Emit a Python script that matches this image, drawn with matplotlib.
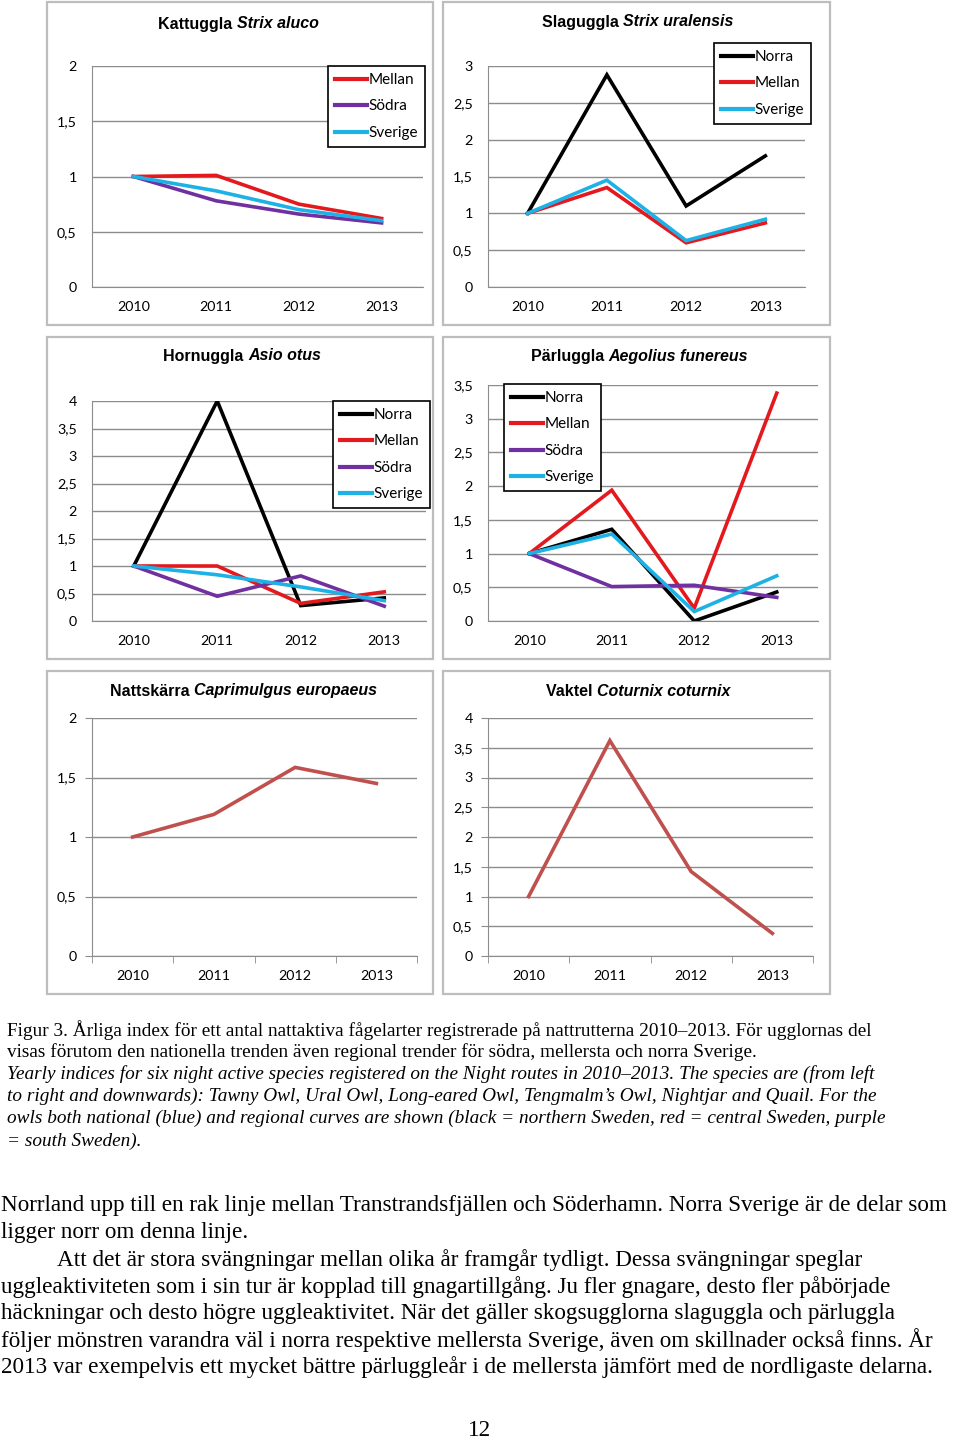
import numpy as np
import matplotlib
matplotlib.use("Agg")
import matplotlib.pyplot as plt
from matplotlib.patches import Rectangle
from matplotlib.ticker import FuncFormatter, MultipleLocator, FixedLocator

W, H = 960, 1442

# --- data ---
years = ["2010", "2011", "2012", "2013"]

kattuggla_mellan = [1.0, 1.01, 0.75, 0.62]
kattuggla_sodra = [1.0, 0.78, 0.66, 0.58]
kattuggla_sverige = [1.0, 0.87, 0.70, 0.60]

slaguggla_norra = [1.0, 2.88, 1.10, 1.78]
slaguggla_mellan = [1.0, 1.35, 0.60, 0.87]
slaguggla_sverige = [1.0, 1.45, 0.63, 0.92]

hornuggla_norra = [1.0, 4.0, 0.28, 0.42]
hornuggla_mellan = [1.0, 1.0, 0.32, 0.53]
hornuggla_sodra = [1.0, 0.45, 0.82, 0.27]
hornuggla_sverige = [1.0, 0.84, 0.62, 0.37]

parluggla_norra = [1.0, 1.36, 0.0, 0.43]
parluggla_mellan = [1.0, 1.94, 0.19, 3.38]
parluggla_sodra = [1.0, 0.51, 0.53, 0.35]
parluggla_sverige = [1.0, 1.29, 0.14, 0.67]

nattskarra = [1.0, 1.19, 1.585, 1.45]
vaktel = [1.0, 3.62, 1.42, 0.38]

caption_lines = [
    ("Figur 3. Årliga index för ett antal nattaktiva fågelarter registrerade på nattrutterna 2010–2013. För ugglornas del", "normal"),
    ("visas förutom den nationella trenden även regional trender för södra, mellersta och norra Sverige.", "normal"),
    ("Yearly indices for six night active species registered on the Night routes in 2010–2013. The species are (from left", "italic"),
    ("to right and downwards): Tawny Owl, Ural Owl, Long-eared Owl, Tengmalm’s Owl, Nightjar and Quail. For the", "italic"),
    ("owls both national (blue) and regional curves are shown (black = northern Sweden, red = central Sweden, purple", "italic"),
    ("= south Sweden).", "italic"),
]
body_lines = [
    ("Norrland upp till en rak linje mellan Transtrandsfjällen och Söderhamn. Norra Sverige är de delar som", 1),
    ("ligger norr om denna linje.", 1),
    ("Att det är stora svängningar mellan olika år framgår tydligt. Dessa svängningar speglar", 57),
    ("uggleaktiviteten som i sin tur är kopplad till gnagartillgång. Ju fler gnagare, desto fler påbörjade", 1),
    ("häckningar och desto högre uggleaktivitet. När det gäller skogsugglorna slaguggla och pärluggla", 1),
    ("följer mönstren varandra väl i norra respektive mellersta Sverige, även om skillnader också finns. År", 1),
    ("2013 var exempelvis ett mycket bättre pärluggleår i de mellersta jämfört med de nordligaste delarna.", 1),
]

C_NORRA = "#000000"
C_MELLAN = "#E3191E"
C_SODRA = "#7030A0"
C_SVERIGE = "#1EB1E6"
C_SINGLE = "#C0504D"

plt.rcParams["font.family"] = ["Lato", "DejaVu Sans"]

fig = plt.figure(figsize=(W / 100, H / 100), dpi=100)
fig.patch.set_facecolor("white")


def fbox(x0, y0, x1, y1):
    return [x0 / W, 1 - y1 / H, (x1 - x0) / W, (y1 - y0) / H]


comma = FuncFormatter(lambda v, p: ("%g" % v).replace(".", ","))


def panel(frame, area, ymax, series, title, title_x, title_y, legend_at=None, ticks=False):
    # ram runt diagrammet
    x0, y0, x1, y1 = frame
    fig.patches.append(Rectangle((x0 / W, 1 - y1 / H), (x1 - x0) / W, (y1 - y0) / H,
                                 transform=fig.transFigure, fill=False,
                                 edgecolor="#BDBDBD", linewidth=1.6))
    ax = fig.add_axes(fbox(*area))
    xs = np.arange(len(years))
    for vals, col, lab in series:
        ax.plot(xs, vals, color=col, lw=2.6, label=lab, solid_joinstyle="miter")
    ax.set_xlim(-0.5, 3.5)
    ax.set_ylim(0, ymax)
    ax.yaxis.set_major_locator(MultipleLocator(0.5))
    ax.yaxis.set_major_formatter(comma)
    ax.set_xticks(xs)
    ax.set_xticklabels(years)
    ax.grid(True, axis="y", color="#8C8C8C", lw=1)
    ax.set_axisbelow(True)
    for s in ["top", "right"]:
        ax.spines[s].set_visible(False)
    for s in ["left", "bottom"]:
        ax.spines[s].set_color("#8C8C8C")
    ax.tick_params(axis="both", labelsize=10.3, colors="black")
    if ticks:
        ax.tick_params(axis="x", which="major", length=0, pad=10)
        ax.xaxis.set_minor_locator(FixedLocator([-0.5, 0.5, 1.5, 2.5, 3.5]))
        ax.tick_params(axis="x", which="minor", length=5, color="#8C8C8C")
        ax.tick_params(axis="y", length=5, color="#8C8C8C", pad=6)
    else:
        ax.tick_params(axis="x", length=0, pad=10)
        ax.tick_params(axis="y", length=0, pad=11)
    if legend_at is not None:
        leg = ax.legend(loc="upper left", bbox_to_anchor=(legend_at[0] / W, 1 - legend_at[1] / H),
                        bbox_transform=fig.transFigure, borderaxespad=0, fontsize=11,
                        handlelength=2.1, handletextpad=0.1, labelspacing=0.82,
                        fancybox=False, framealpha=1, edgecolor="black", borderpad=0.45)
        leg.get_frame().set_linewidth(1.2)
        for ln in leg.get_lines():
            ln.set_linewidth(3)
    # titel: svenskt namn fet, latinskt namn fet kursiv
    t1 = fig.text(title_x / W, 1 - title_y / H, title[0] + " ", fontsize=11.5, fontweight="bold",
                  family=["Liberation Sans"], va="center", ha="left")
    fig.canvas.draw()
    bb = t1.get_window_extent(fig.canvas.get_renderer())
    fig.text(bb.x1 / W, 1 - title_y / H, title[1], fontsize=11.5, fontweight="bold",
             fontstyle="italic", family=["Liberation Sans"], va="center", ha="left")
    return ax


panel((47, 2, 433, 325), (92, 66, 423, 287), 2,
      [(kattuggla_mellan, C_MELLAN, "Mellan"), (kattuggla_sodra, C_SODRA, "Södra"),
       (kattuggla_sverige, C_SVERIGE, "Sverige")],
      ("Kattuggla", "Strix aluco"), 158, 24, legend_at=(328, 66))

panel((443, 2, 830, 325), (488, 66, 805, 287), 3,
      [(slaguggla_norra, C_NORRA, "Norra"), (slaguggla_mellan, C_MELLAN, "Mellan"),
       (slaguggla_sverige, C_SVERIGE, "Sverige")],
      ("Slaguggla", "Strix uralensis"), 542, 22, legend_at=(714, 43))

panel((47, 337, 433, 659), (92, 401, 426, 621), 4,
      [(hornuggla_norra, C_NORRA, "Norra"), (hornuggla_mellan, C_MELLAN, "Mellan"),
       (hornuggla_sodra, C_SODRA, "Södra"), (hornuggla_sverige, C_SVERIGE, "Sverige")],
      ("Hornuggla", "Asio otus"), 163, 356, legend_at=(333, 401))

panel((443, 337, 830, 659), (488, 385, 818, 621), 3.5,
      [(parluggla_norra, C_NORRA, "Norra"), (parluggla_mellan, C_MELLAN, "Mellan"),
       (parluggla_sodra, C_SODRA, "Södra"), (parluggla_sverige, C_SVERIGE, "Sverige")],
      ("Pärluggla", "Aegolius funereus"), 531, 356, legend_at=(504, 384))

panel((47, 671, 433, 994), (92, 718, 417, 956), 2,
      [(nattskarra, C_SINGLE, "Nattskärra")],
      ("Nattskärra", "Caprimulgus europaeus"), 110, 691, ticks=True)

panel((443, 671, 830, 994), (488, 718, 813, 956), 4,
      [(vaktel, C_SINGLE, "Vaktel")],
      ("Vaktel", "Coturnix coturnix"), 546, 691, ticks=True)

# figurtext
for i, (line, style) in enumerate(caption_lines):
    fig.text(7 / W, 1 - (1030 + i * 22.2) / H, line, fontsize=13.9, fontstyle=style,
             family=["Liberation Serif"], va="center", ha="left")

# brödtext
for i, (line, x) in enumerate(body_lines):
    fig.text(x / W, 1 - (1206 + i * 26.9) / H, line, fontsize=16.7, family=["Liberation Serif"],
             va="center", ha="left")

fig.text(480 / W, 1 - 1430 / H, "12", fontsize=16.7, family=["Liberation Serif"], va="center", ha="center")

fig.savefig("out.png", dpi=100)
